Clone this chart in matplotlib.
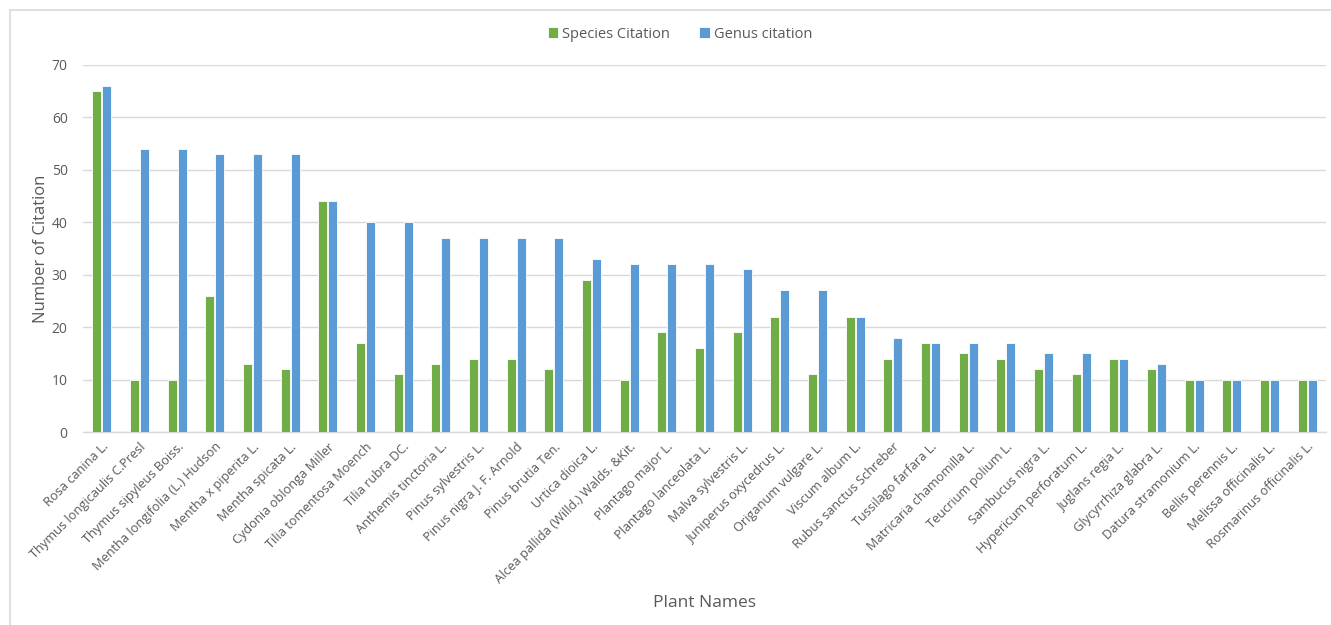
import matplotlib
matplotlib.use("Agg")
import matplotlib.pyplot as plt
import numpy as np
from matplotlib.patches import Rectangle

plants = [
    "Rosa canina L.", "Thymus longicaulis C.Presl", "Thymus sipyleus Boiss.",
    "Mentha longifolia (L.) Hudson", "Mentha x piperita L.", "Mentha spicata L.",
    "Cydonia oblonga Miller", "Tilia tomentosa Moench", "Tilia rubra DC.",
    "Anthemis tinctoria L.", "Pinus sylvestris L.", "Pinus nigra J. F. Arnold",
    "Pinus brutia Ten.", "Urtica dioica L.", "Alcea pallida (Willd.) Walds. &Kit.",
    "Plantago major L.", "Plantago lanceolata L.", "Malva sylvestris L.",
    "Juniperus oxycedrus L.", "Origanum vulgare L.", "Viscum album L.",
    "Rubus sanctus Schreber", "Tussilago farfara L.", "Matricaria chamomilla L.",
    "Teucrium polium L.", "Sambucus nigra L.", "Hypericum perforatum L.",
    "Juglans regia L.", "Glycyrrhiza glabra L.", "Datura stramonium L.",
    "Bellis perennis L.", "Melissa officinalis L.", "Rosmarinus officinalis L.",
]
species_citation = [65, 10, 10, 26, 13, 12, 44, 17, 11, 13, 14, 14, 12, 29, 10,
                    19, 16, 19, 22, 11, 22, 14, 17, 15, 14, 12, 11, 14, 12, 10,
                    10, 10, 10]
genus_citation = [66, 54, 54, 53, 53, 53, 44, 40, 40, 37, 37, 37, 37, 33, 32,
                  32, 32, 31, 27, 27, 22, 18, 17, 17, 17, 15, 15, 14, 13, 10,
                  10, 10, 10]
y_ticks = [0, 10, 20, 30, 40, 50, 60, 70]

plt.rcParams['font.family'] = ['Open Sans', 'DejaVu Sans']
txt = '#595959'
green = '#70AD47'
blue = '#5B9BD5'

fig = plt.figure(figsize=(13.31, 6.25), dpi=100)
fig.patches.append(Rectangle((10/1331, -0.1), 2, 1.1 - 10/625,
                             transform=fig.transFigure, fill=False,
                             edgecolor='#D9D9D9', linewidth=1.2))
ax = fig.add_axes([83/1331, 1-432/625, (1326-83)/1331, (432-65)/625])

x = np.arange(len(plants))
w = 0.235
ax.bar(x - w/2 - 0.015, species_citation, w, color=green, edgecolor='white',
       linewidth=0.6, label='Species Citation', zorder=3)
ax.bar(x + w/2 + 0.015, genus_citation, w, color=blue, edgecolor='white',
       linewidth=0.6, label='Genus citation', zorder=3)

ax.set_xlim(-0.5, len(plants) - 0.5)
ax.set_ylim(0, 70)
ax.set_yticks(y_ticks)
ax.yaxis.grid(True, color='#D9D9D9', linewidth=1.0, zorder=0)
ax.set_axisbelow(True)
for s in ['top', 'right', 'left']:
    ax.spines[s].set_visible(False)
ax.spines['bottom'].set_color('#D9D9D9')
ax.spines['bottom'].set_linewidth(1.0)
ax.tick_params(axis='both', length=0, colors=txt, labelsize=10)
ax.tick_params(axis='y', pad=11)
ax.set_xticks(x)
ax.set_xticklabels(plants, rotation=45, ha='right', rotation_mode='anchor',
                   fontsize=9.2, color=txt)
ax.tick_params(axis='x', pad=6)

ax.set_ylabel('Number of Citation', fontsize=12, color=txt)
ax.yaxis.set_label_coords((49 - 83) / 1243, 0.5)
fig.text(705/1331, 1-603/625, 'Plant Names', fontsize=12.5, color=txt,
         ha='center', va='center')

leg = fig.legend(loc='center', bbox_to_anchor=(680/1331, 1-34/625), ncol=2,
                 frameon=False, fontsize=10.5, handlelength=0.7,
                 handleheight=0.7, handletextpad=0.3, columnspacing=2.0)
for t in leg.get_texts():
    t.set_color(txt)

fig.savefig('out.png', dpi=100, facecolor='white')
